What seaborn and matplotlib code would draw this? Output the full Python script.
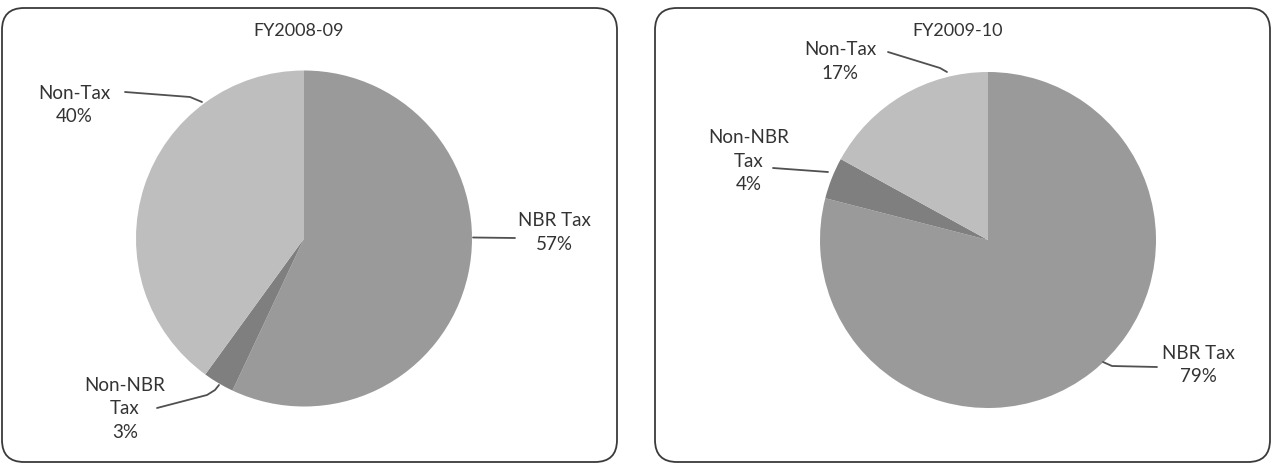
import matplotlib
matplotlib.use("Agg")
import matplotlib.pyplot as plt
from matplotlib.patches import FancyBboxPatch
import seaborn as sns

# data
categories = ["NBR Tax", "Non-NBR Tax", "Non-Tax"]
share_0809 = [57, 3, 40]
share_0910 = [79, 4, 17]
years = ["FY2008-09", "FY2009-10"]
grey_shades = ["#9a9a9a", "#7f7f7f", "#bebebe"]

sns.set_theme(style="white")
plt.rcParams['font.family'] = ['Lato', 'DejaVu Sans']

W, H = 1273, 474
fig = plt.figure(figsize=(W / 100, H / 100), dpi=100)
ax = fig.add_axes([0, 0, 1, 1])

def up(y):
    # picture rows run down, axes run up
    return H - y

# panel layout (pixels): box left, pie centre, title x
panels = [
    dict(box_x=2, cx=304, cy=238.5, title_x=299,
         labels=[(554, 232.5), (125, 409), (74.5, 105)],
         leaders=[[(473, 237.5), (515, 238)],
                  [(219, 385), (215, 390), (207, 395), (157, 408)],
                  [(202, 102), (190, 97), (125, 92)]]),
    dict(box_x=655, cx=988, cy=240, title_x=958,
         labels=[(1198, 365), (749, 161), (840, 61.5)],
         leaders=[[(1103, 362), (1112, 366), (1157, 367)],
                  [(828, 172), (773, 168)],
                  [(947, 72), (940, 68), (888, 52)]]),
]

text_col = "#333333"
for values, year, p in zip([share_0809, share_0910], years, panels):
    box = FancyBboxPatch((p["box_x"], up(462)), 615, 454,
                         boxstyle="round,pad=0,rounding_size=22",
                         fc="white", ec="#3a3a3a", lw=1.3, zorder=0)
    ax.add_patch(box)
    ax.pie(values, colors=grey_shades, startangle=90, counterclock=False,
           center=(p["cx"], up(p["cy"])), radius=168,
           wedgeprops=dict(linewidth=0))
    ax.text(p["title_x"], up(31), year, ha="center", va="center",
            fontsize=13, color=text_col)
    for name, v, (lx, ly), pts in zip(categories, values, p["labels"], p["leaders"]):
        name = name.replace("Non-NBR ", "Non-NBR\n")
        ax.text(lx, up(ly), f"{name}\n{v}%", ha="center", va="center",
                fontsize=13.5, color=text_col, linespacing=1.45,
                multialignment="center")
        ax.plot([x for x, _ in pts], [up(y) for _, y in pts],
                color="#505050", lw=1.3, solid_capstyle="round")

ax.set_xlim(0, W)
ax.set_ylim(0, H)
ax.set_aspect("equal")
ax.axis("off")
fig.savefig("out.png", dpi=100)
